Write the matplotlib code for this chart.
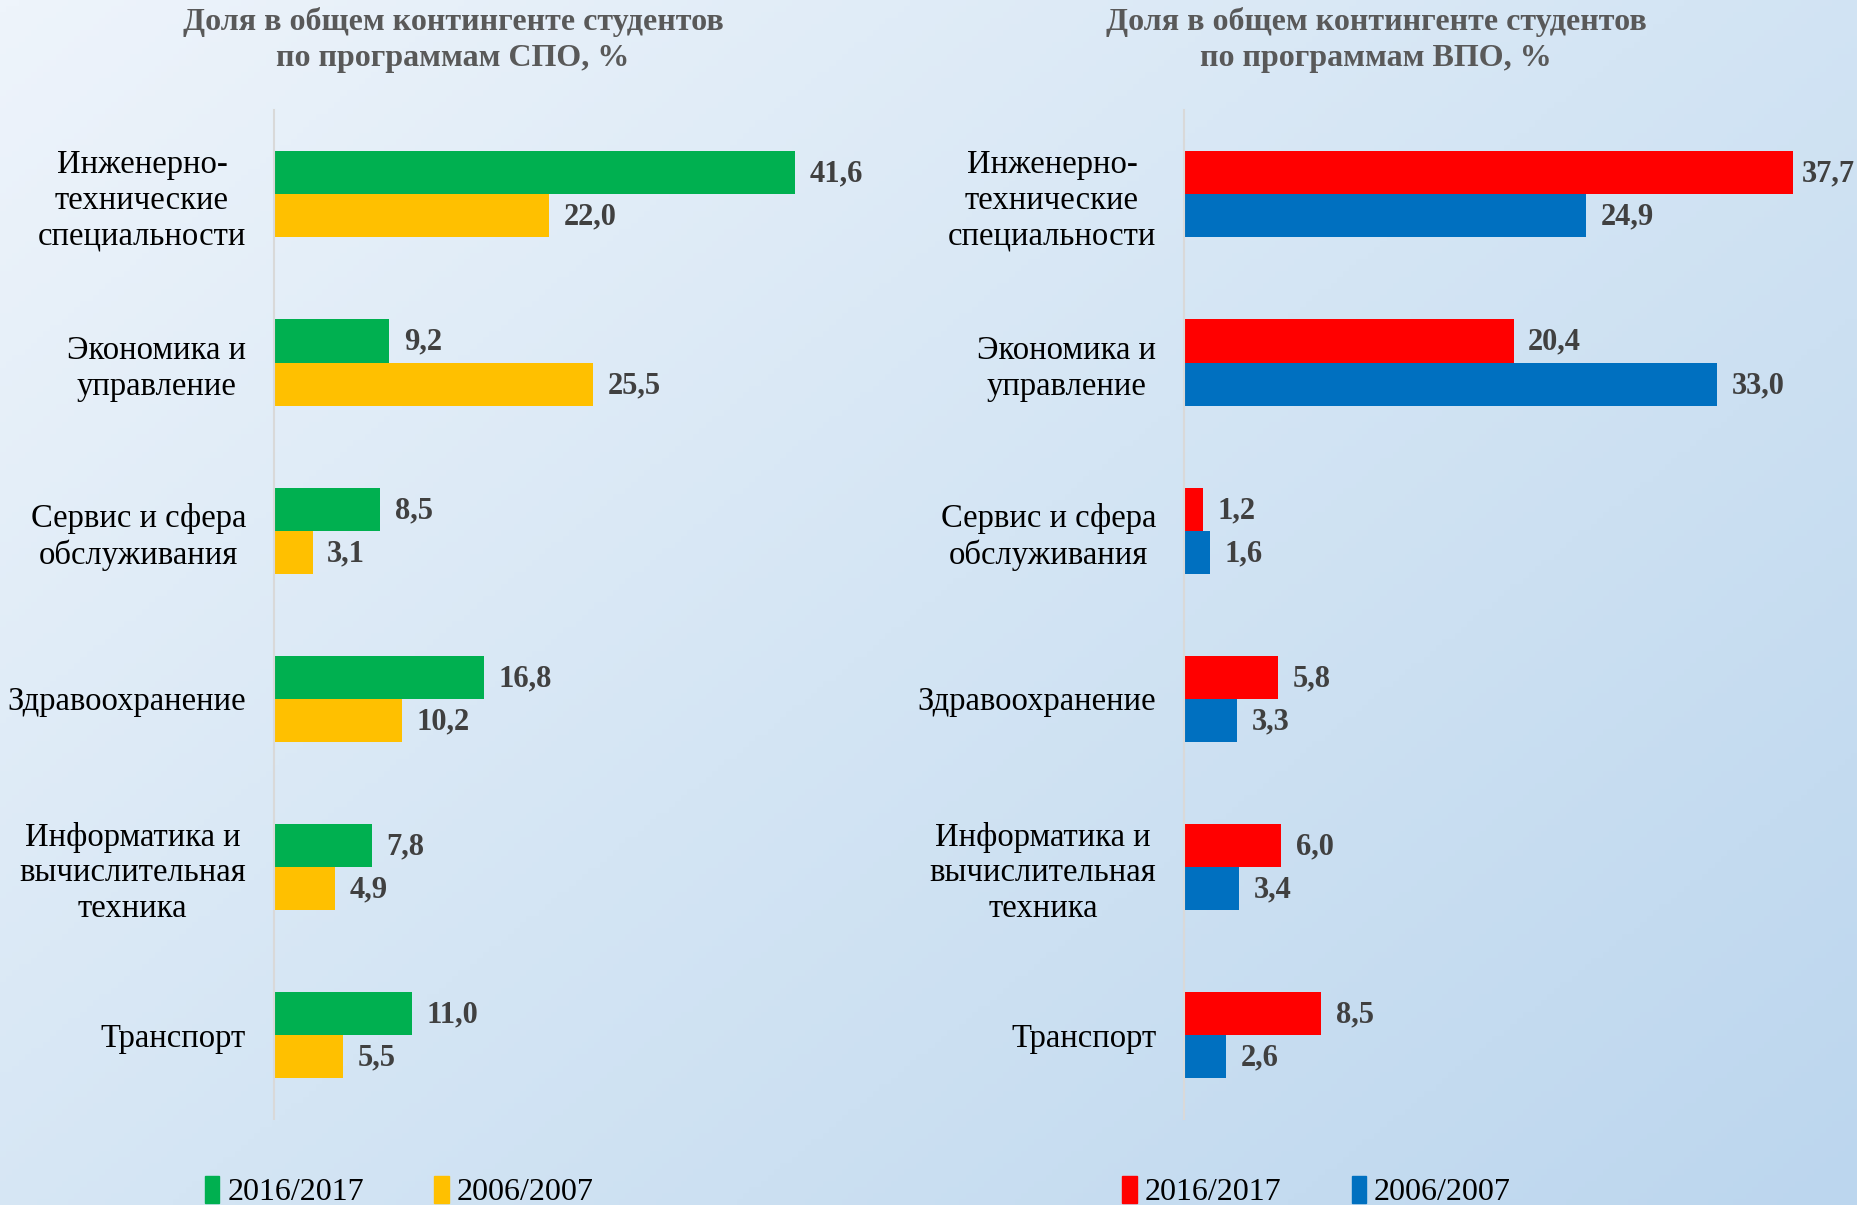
import numpy as np
import matplotlib as mpl
import matplotlib.pyplot as plt
from matplotlib.colors import LinearSegmentedColormap
from matplotlib.patches import Patch

mpl.use('Agg')

categories = ['Инженерно-\nтехнические\nспециальности', 'Экономика и\nуправление',
              'Сервис и сфера\nобслуживания', 'Здравоохранение',
              'Информатика и\nвычислительная\nтехника', 'Транспорт']
years = ['2016/2017', '2006/2007']

spo_2016 = [41.6, 9.2, 8.5, 16.8, 7.8, 11.0]
spo_2006 = [22.0, 25.5, 3.1, 10.2, 4.9, 5.5]
vpo_2016 = [37.7, 20.4, 1.2, 5.8, 6.0, 8.5]
vpo_2006 = [24.9, 33.0, 1.6, 3.3, 3.4, 2.6]

titles = ['Доля в общем контингенте студентов\nпо программам СПО, %',
          'Доля в общем контингенте студентов\nпо программам ВПО, %']

plt.rcParams['font.family'] = ['Liberation Serif', 'DejaVu Serif']

fig = plt.figure(figsize=(18.57, 12.05), dpi=100)

# diagonal background gradient
bg = fig.add_axes([0, 0, 1, 1], zorder=-10)
gx, gy = np.meshgrid(np.linspace(0, 1, 300), np.linspace(0, 1, 200))
grad = (gx * 0.55 + gy * 0.45)
cmap = LinearSegmentedColormap.from_list('bg', ['#EEF4FB', '#D4E5F4', '#BCD6EE'])
bg.imshow(grad, cmap=cmap, aspect='auto', extent=[0, 1, 0, 1], origin='upper')
bg.axis('off')


def value_labels(ax, ys, vals, xmax):
    for yy, v in zip(ys, vals):
        # labels near the right edge get squeezed closer to the bar
        off = 6.5 if v > 0.88 * xmax else 10.5
        ax.annotate(f'{v:.1f}'.replace('.', ','), (v, yy), xytext=(off, -1),
                    textcoords='offset points', va='center', ha='left',
                    fontsize=22, fontweight='bold', color='#404040')


def panel(rect, v_new, v_old, colors, xmax, title, title_x, leg_x):
    ax = fig.add_axes(rect)
    ax.patch.set_alpha(0)
    y = np.arange(len(categories))
    h = 0.256
    ax.barh(y - h / 2, v_new, height=h, color=colors[0])
    ax.barh(y + h / 2, v_old, height=h, color=colors[1])
    value_labels(ax, y - h / 2, v_new, xmax)
    value_labels(ax, y + h / 2, v_old, xmax)
    ax.set_xlim(0, xmax)
    ax.set_ylim(len(categories) - 0.5, -0.5)
    ax.set_yticks(y)
    ax.set_yticklabels(categories, fontsize=23.5, multialignment='center', linespacing=1.22)
    ax.tick_params(axis='y', length=0, pad=20)
    ax.set_xticks([])
    for s in ['top', 'right', 'bottom']:
        ax.spines[s].set_visible(False)
    ax.spines['left'].set_color('#D9D9D9')
    ax.spines['left'].set_linewidth(1.5)
    fig.text(title_x, 0.994, title, ha='center', va='top', fontsize=23, fontweight='bold',
             color='#595959', linespacing=1.3)
    handles = [Patch(color=colors[0]), Patch(color=colors[1])]
    fig.legend(handles, years, loc='center', bbox_to_anchor=(leg_x, 0.011),
               ncol=2, frameon=False, fontsize=23, handlelength=0.45, handleheight=0.9,
               handletextpad=0.25, columnspacing=2.2)
    return ax


panel([0.1475, 0.0714, 0.337, 0.837], spo_2016, spo_2006, ['#00B050', '#FFC000'],
      50, titles[0], 0.244, 0.215)
panel([0.6376, 0.0714, 0.361, 0.837], vpo_2016, vpo_2006, ['#FF0000', '#0070C0'],
      41.5, titles[1], 0.741, 0.709)

fig.savefig('out.png', dpi=100)
